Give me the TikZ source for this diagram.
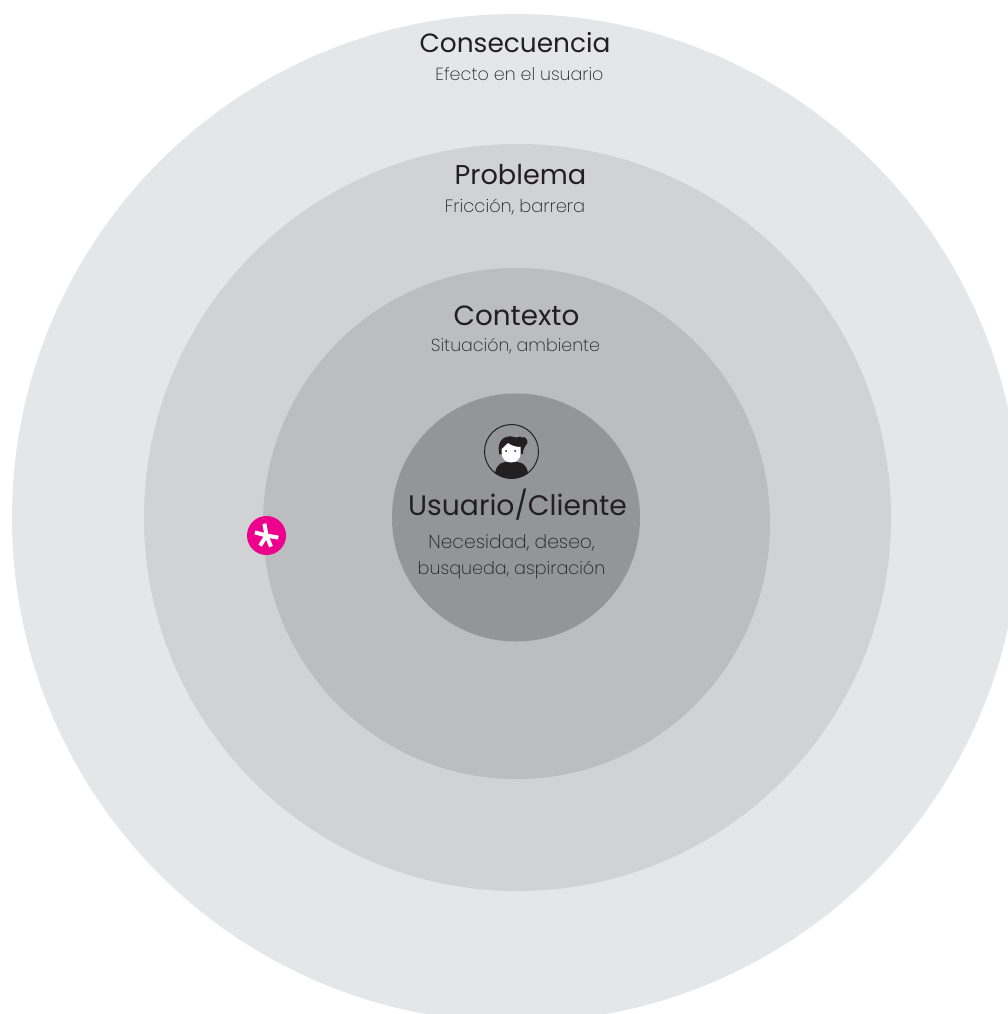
\documentclass[tikz,border=0pt]{standalone}
\usepackage{fontspec}
\usetikzlibrary{shapes.geometric}
\setmainfont{Poppins}
\newfontfamily\lightfont{Poppins ExtraLight}
\definecolor{ringA}{HTML}{E5E6E8}
\definecolor{ringB}{HTML}{D1D2D4}
\definecolor{ringC}{HTML}{BBBDC0}
\definecolor{ringD}{HTML}{939598}
\definecolor{inkdark}{HTML}{231F20}
\definecolor{magentaA}{HTML}{EC008C}
\tikzset{
  disc/.style={circle,inner sep=0pt,minimum size=#1},
  headtext/.style={inner sep=0pt,text=inkdark,font=\fontsize{#1}{30}\selectfont},
  subtext/.style={inner sep=0pt,text=inkdark,align=center,font=\lightfont\fontsize{#1}{26}\selectfont},
}
\begin{document}
\begin{tikzpicture}[x=1pt,y=-1pt]
\useasboundingbox (0,0) rectangle (1008,1014);
\clip (0,0) rectangle (1008,1014);
\fill[white] (0,0) rectangle (1008,1014);
\node[disc=1008pt,fill=ringA] (outer) at (516,518) {};
\node[disc=747pt,fill=ringB] (problem) at (517.5,517.5) {};
\node[ellipse,inner sep=0pt,minimum width=507pt,minimum height=511pt,fill=ringC] (context) at (516.5,523.5) {};
\node[disc=248pt,fill=ringD] (user) at (516,517.5) {};
\node[headtext=26.4] (t1) at (515,43) {Consecuencia};
\node[subtext=17.5] (s1) at (519.5,74.5) {Efecto en el usuario};
\node[headtext=27.2] (t2) at (520.5,175) {Problema};
\node[subtext=17.8] (s2) at (515,207) {Fricción, barrera};
\node[headtext=27.8] (t3) at (516.5,316) {Contexto};
\node[subtext=17.4] (s3) at (515.5,346) {Situación, ambiente};
\node[headtext=28.2] (t4) at (517.5,505) {Usuario/Cliente};
\node[subtext=18] (s4) at (511.5,556.5) {\fontsize{18.7}{26}\selectfont Necesidad, deseo,\\\fontsize{17.6}{26}\selectfont busqueda, aspiración};
% person icon
\node[disc=54pt,draw=inkdark,line width=1pt] (icon) at (511.5,451.5) {};
\begin{scope}
\clip (511.5,451.5) circle (27);
\fill[inkdark] (494.5,480) .. controls (494.5,468) and (498,463) .. (505,462) -- (518,462) .. controls (525,463) and (528.5,468) .. (528.5,480) -- cycle;
\end{scope}
\fill[inkdark] (499,452) .. controls (497,441) and (504,435.5) .. (512,436.5) .. controls (516,437.5) and (518,438) .. (520,436.5) .. controls (522,438) .. (524,437) .. controls (528,439) and (528.5,443) .. (526,445) .. controls (524,447) and (523,450) .. (523,454) -- (499,454) -- cycle;
\fill[white] (501.7,449) .. controls (504,447) and (506,445) .. (508,443) .. controls (511,445.5) and (516,447) .. (520.7,447) -- (520.7,453) .. controls (520.7,459) and (516.5,462.5) .. (511.2,462.5) .. controls (506,462.5) and (501.7,459) .. (501.7,453) -- cycle;
\fill[inkdark] (506,451) circle (1);
\fill[inkdark] (515,451) circle (1);
% asterisk badge
\node[disc=39pt,fill=magentaA] (badge) at (266.5,535.5) {};
\foreach \a in {-100,-165,10,68,122}
  \draw[white,line width=4pt] (badge.center) -- ++(\a:12);
\end{tikzpicture}
\end{document}
